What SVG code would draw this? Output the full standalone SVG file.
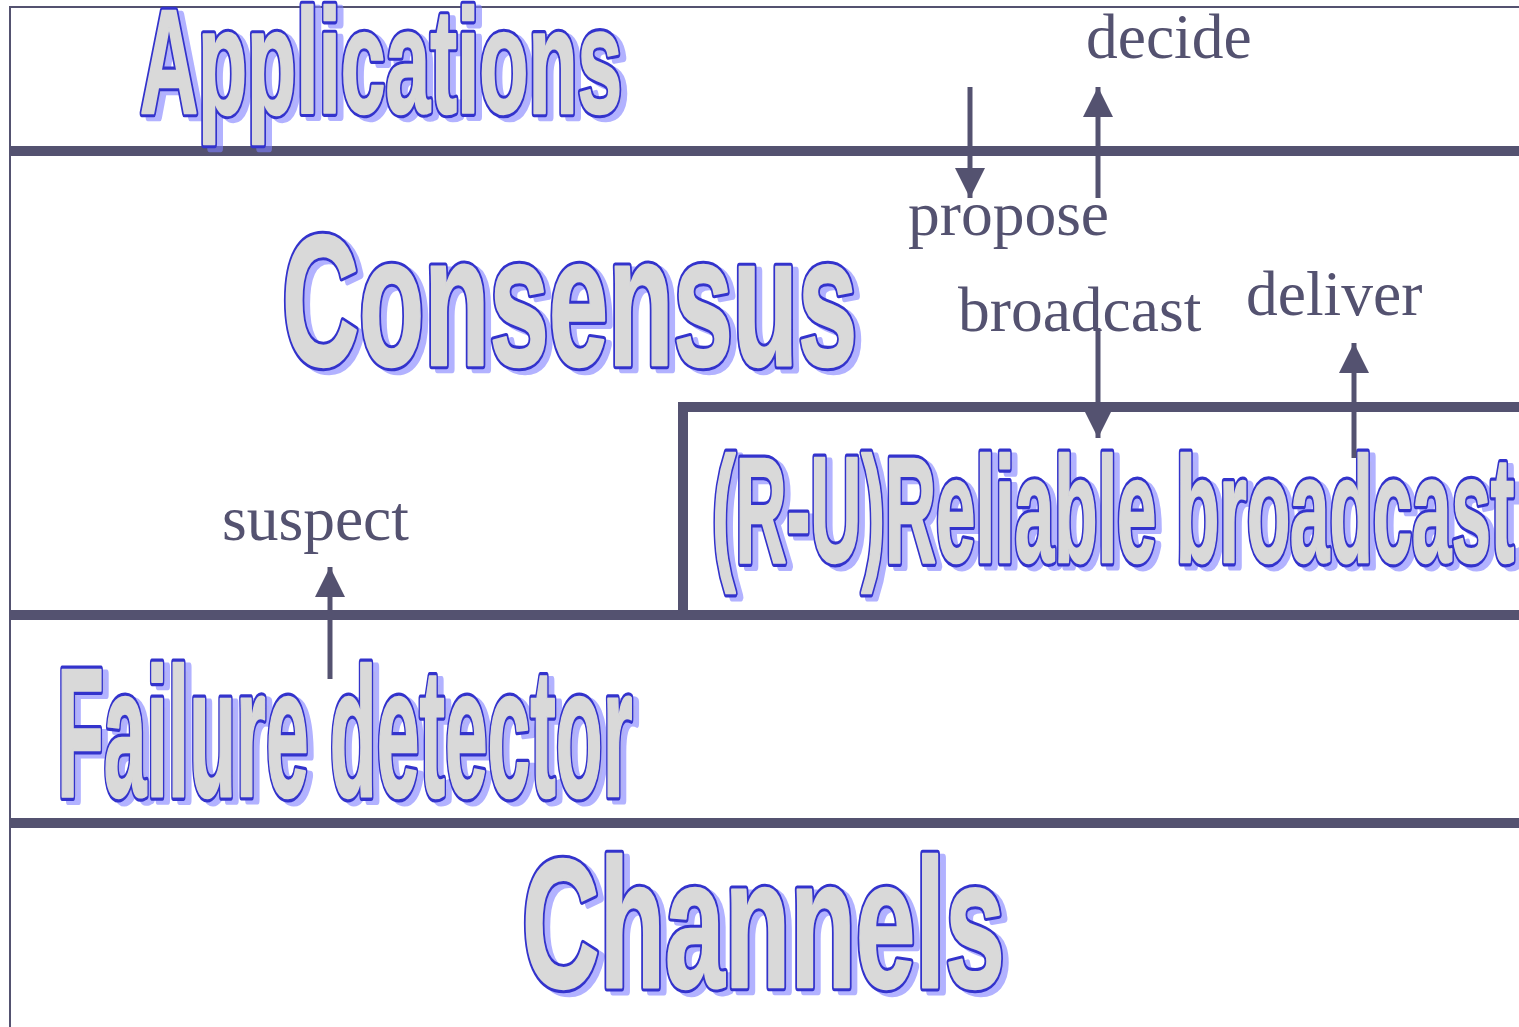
<svg xmlns="http://www.w3.org/2000/svg" width="1519" height="1027" viewBox="0 0 1519 1027">
<style>
.bg{fill:#ffffff}
.frame{stroke:#545270;stroke-width:2;fill:none}
.bar{stroke:#545270;stroke-width:10;fill:none}
.shaft{stroke:#545270;stroke-width:5;fill:none}
.lbl{font-family:"Liberation Serif","Times New Roman",serif;font-size:63.5px;fill:#545270}
.wa text{font-family:"Liberation Sans",Arial,sans-serif;font-weight:bold;stroke-linejoin:round;vector-effect:non-scaling-stroke}
.wa .ol{fill:#3333cc;stroke:#3333cc;stroke-width:7}
.wa .fl{fill:#d9d9d9;stroke:#d9d9d9;stroke-width:2}
.wa .sh{opacity:0.6}
.wa .sh text{fill:#8080e8;stroke:#7f7fff;stroke-width:7}
</style>
<defs>
<marker id="ah" viewBox="0 0 30 30" refX="30" refY="15" markerWidth="30" markerHeight="30" markerUnits="userSpaceOnUse" orient="auto">
<path d="M0,0 L30,15 L0,30 z" fill="#545270"/>
</marker>
</defs>
<rect class="bg" x="0" y="0" width="1519" height="1027"/>
<g id="layers">
<line class="frame" x1="9" y1="7" x2="1519" y2="7"/>
<line class="frame" x1="10" y1="6" x2="10" y2="1027"/>
<line class="bar" x1="10" y1="151" x2="1519" y2="151"/>
<line class="bar" x1="678" y1="407" x2="1519" y2="407"/>
<line class="bar" x1="683" y1="402" x2="683" y2="620"/>
<line class="bar" x1="10" y1="615" x2="1519" y2="615"/>
<line class="bar" x1="10" y1="823" x2="1519" y2="823"/>
</g>
<g id="node-applications" class="wa" font-size="148" transform="matrix(0.543,0,0,1,140,113)">
<g class="sh"><text x="11" y="4">Applications</text></g>
<text class="ol">Applications</text>
<text class="fl">Applications</text>
</g>
<g id="node-consensus" class="wa" font-size="186" transform="matrix(0.574,0,0,1,282,365)">
<g class="sh"><text x="10" y="4">Consensus</text></g>
<text class="ol">Consensus</text>
<text class="fl">Consensus</text>
</g>
<g id="node-reliable-broadcast" class="wa" font-size="150" transform="matrix(0.472,0,0,1,712,562)">
<g class="sh"><text x="12" y="4">(R-U)Reliable broadcast</text></g>
<text class="ol">(R-U)Reliable broadcast</text>
<text class="fl">(R-U)Reliable broadcast</text>
</g>
<g id="node-failure-detector" class="wa" font-size="184" transform="matrix(0.417,0,0,1,57,796)">
<g class="sh"><text x="14" y="4">Failure detector</text></g>
<text class="ol">Failure detector</text>
<text class="fl">Failure detector</text>
</g>
<g id="node-channels" class="wa" font-size="184" transform="matrix(0.583,0,0,1,522,987)">
<g class="sh"><text x="10" y="4">Channels</text></g>
<text class="ol">Channels</text>
<text class="fl">Channels</text>
</g>
<g id="connectors">
<line class="shaft" x1="970" y1="87" x2="970" y2="198" marker-end="url(#ah)"/>
<line class="shaft" x1="1098" y1="198" x2="1098" y2="87" marker-end="url(#ah)"/>
<line class="shaft" x1="1098" y1="328" x2="1098" y2="438" marker-end="url(#ah)"/>
<line class="shaft" x1="1354" y1="458" x2="1354" y2="343" marker-end="url(#ah)"/>
<line class="shaft" x1="330" y1="679" x2="330" y2="567" marker-end="url(#ah)"/>
</g>
<g id="labels">
<text class="lbl" x="1086" y="58">decide</text>
<text class="lbl" x="908" y="235">propose</text>
<text class="lbl" x="958" y="331">broadcast</text>
<text class="lbl" x="1246" y="315">deliver</text>
<text class="lbl" x="222" y="540">suspect</text>
</g>
</svg>
